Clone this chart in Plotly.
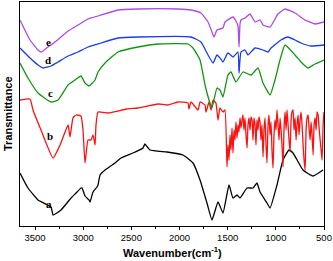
import plotly.graph_objects as go

# Curve a (black)
a_wn = [3656, 3573, 3469, 3334, 3313, 3230, 3126, 3074, 3023, 3012, 2981, 2939, 2929, 2898, 2856, 2846, 2825, 2773, 2670, 2607, 2483, 2379, 2360, 2306, 2130, 1964, 1860, 1787, 1715, 1663, 1600, 1549, 1486, 1445, 1403, 1372, 1299, 1237, 1196, 1164, 1092, 1060, 988, 926, 863, 822, 718, 614, 510]
a_val = [53, 38, 26, 19, 11, 16, 28, 33, 38, 38, 30, 26, 24, 34, 39, 41, 51, 56, 63, 68, 73, 78, 82, 76, 74, 71, 63, 46, 23, 6, 24, 13, 41, 28, 31, 28, 38, 38, 43, 34, 23, 18, 41, 66, 76, 73, 56, 50, 56]

# Curve b (red)
b_wn = [3656, 3552, 3521, 3438, 3313, 3240, 3157, 3137, 3106, 3074, 3023, 3002, 2981, 2950, 2919, 2898, 2877, 2867, 2846, 2742, 2638, 2550, 2431, 2330, 2223, 2120, 2016, 1912, 1902, 1881, 1808, 1787, 1735, 1725, 1694, 1673, 1652, 1622, 1600, 1580, 1549, 1528,
        1507, 1497, 1486, 1476, 1466, 1455, 1445, 1434, 1424, 1414,
        1403, 1393, 1383, 1372, 1362, 1351, 1341, 1331, 1320, 1310,
        1299, 1289, 1279, 1268, 1258, 1247, 1237, 1227, 1216, 1206,
        1196, 1185, 1175, 1164, 1154, 1144, 1133, 1123, 1112, 1102,
        1092, 1081, 1071, 1060, 1050, 1040, 1029, 1019, 1009, 998,
        988, 977, 967, 956, 946, 936, 925, 915, 904, 894,
        884, 873, 863, 852, 842, 832, 821, 811, 800, 790,
        780, 769, 759, 748, 738, 728, 717, 707, 696, 686,
        676, 665, 655, 644, 634, 624, 613, 603, 592, 582,
        572, 561, 551, 540, 530, 520, 509, 500]
b_val = [126, 127, 116, 96, 68, 81, 101, 89, 108, 111, 110, 96, 63, 86, 86, 91, 81, 101, 114, 113, 115, 117, 118, 120, 122, 121, 124, 123, 117, 124, 116, 124, 121, 114, 124, 116, 126, 123, 106, 118, 114, 116,
         59, 81, 66, 91, 76, 98, 73, 96, 86, 104,
         88, 101, 94, 108, 98, 106, 111, 96, 108, 91,
         78, 101, 108, 96, 109, 106, 86, 108, 101, 81,
         106, 96, 109, 104, 86, 101, 69, 96, 108, 81,
         63, 101, 111, 91, 104, 76, 58, 91, 106, 96,
         116, 101, 86, 108, 96, 81, 59, 98, 114, 96,
         116, 101, 86, 74, 106, 114, 116, 96, 108, 86,
         101, 111, 91, 106, 114, 101, 81, 66, 56, 96,
         108, 111, 98, 86, 104, 91, 71, 101, 108, 96,
         114, 111, 98, 86, 76, 66, 101, 114]

# Curve c (green)
c_wn = [3656, 3573, 3469, 3334, 3261, 3157, 3085, 3023, 2981, 2939, 2877, 2846, 2773, 2638, 2431, 2223, 1912, 1860, 1787, 1735, 1694, 1663, 1611, 1580, 1549, 1497, 1466, 1414, 1341, 1258, 1185, 1133, 1060, 1009, 957, 905, 801, 739, 666, 593, 500]
c_val = [163, 148, 133, 124, 126, 141, 146, 150, 143, 140, 146, 154, 163, 174, 179, 182, 182, 178, 166, 141, 126, 118, 138, 136, 129, 151, 154, 144, 154, 151, 158, 143, 131, 146, 166, 181, 171, 164, 158, 162, 166]

# Curve d (blue)
d_wn = [3656, 3552, 3469, 3417, 3334, 3261, 3157, 3054, 2950, 2815, 2638, 2431, 1881, 1777, 1704, 1652, 1611, 1580, 1549, 1497, 1445, 1393, 1382, 1362, 1320, 1289, 1216, 1133, 1081, 1050, 947, 874, 801, 739, 635, 500]
d_val = [178, 168, 161, 158, 160, 164, 170, 174, 179, 183, 188, 189, 189, 184, 171, 163, 171, 168, 164, 173, 169, 174, 153, 174, 176, 171, 178, 176, 174, 178, 186, 189, 186, 183, 180, 181]

# Curve e (purple)
e_wn = [3656, 3552, 3469, 3438, 3417, 3365, 3292, 3157, 3054, 2950, 2846, 2638, 2431, 2016, 1881, 1777, 1704, 1663, 1642, 1611, 1549, 1528, 1445, 1414, 1393, 1382, 1372, 1362, 1320, 1268, 1216, 1164, 1133, 1060, 978, 905, 801, 697, 593, 500]
e_val = [206, 186, 176, 174, 175, 179, 184, 195, 201, 207, 210, 216, 217, 217, 216, 213, 204, 194, 189, 196, 198, 204, 209, 205, 200, 179, 202, 206, 208, 212, 204, 206, 201, 199, 212, 217, 213, 206, 202, 204]

series = [
    (a_wn, a_val, "#000000"),
    (b_wn, b_val, "#ff1010"),
    (c_wn, c_val, "#129612"),
    (d_wn, d_val, "#1a3cf0"),
    (e_wn, e_val, "#b048f0"),
]

label_text = ["a", "b", "c", "d", "e"]
label_wn = [3355, 3344, 3344, 3365, 3365]
label_val = [22, 90, 133, 166, 184]

tick_vals = [3500, 3000, 2500, 2000, 1500, 1000, 500]
minor_vals = [3250, 2750, 2250, 1750, 1250, 750]

fig = go.Figure()
for wn, val, col in series:
    fig.add_trace(go.Scatter(x=wn, y=val, mode="lines",
                             line=dict(color=col, width=1.3, shape="spline", smoothing=0.4),
                             showlegend=False, hoverinfo="skip"))

for t, xw, yv in zip(label_text, label_wn, label_val):
    fig.add_annotation(x=xw, y=yv, text="<b>%s</b>" % t, showarrow=False,
                       font=dict(family="Liberation Serif", size=11, color="#000000"))

fig.add_annotation(xref="paper", yref="paper", x=0.5, y=0, yshift=-26,
                   text="<b>Wavenumber(cm<sup>-1</sup>)</b>", showarrow=False,
                   xanchor="center", yanchor="middle",
                   font=dict(family="Liberation Sans, Arial", size=11, color="#000"))
fig.add_annotation(xref="paper", yref="paper", x=0, y=0.5, xshift=-12,
                   text="<b>Transmittance</b>", showarrow=False, textangle=-90,
                   xanchor="center", yanchor="middle",
                   font=dict(family="Liberation Sans, Arial", size=11, color="#000"))

fig.update_layout(
    width=333, height=261,
    margin=dict(l=20, r=9, t=2, b=35, autoexpand=False),
    paper_bgcolor="white", plot_bgcolor="white",
    font=dict(family="Liberation Sans, Arial", color="#000000"),
)
fig.update_xaxes(range=[3656, 500], tickvals=tick_vals, automargin=False,
                 ticks="outside", ticklen=3, tickwidth=1, tickcolor="#000",
                 minor=dict(tickvals=minor_vals, ticks="outside", ticklen=2, tickcolor="#000"),
                 showline=True, linecolor="#000", linewidth=1, mirror=True,
                 showgrid=False, zeroline=False,
                 tickfont=dict(size=9.5, family="Liberation Sans, Arial"))
fig.update_yaxes(range=[0, 224], showticklabels=False, ticks="", automargin=False,
                 showline=True, linecolor="#000", linewidth=1, mirror=True,
                 showgrid=False, zeroline=False)

fig.write_html("out.html", config={"displayModeBar": False},
               post_script="document.body.style.margin='0';")
